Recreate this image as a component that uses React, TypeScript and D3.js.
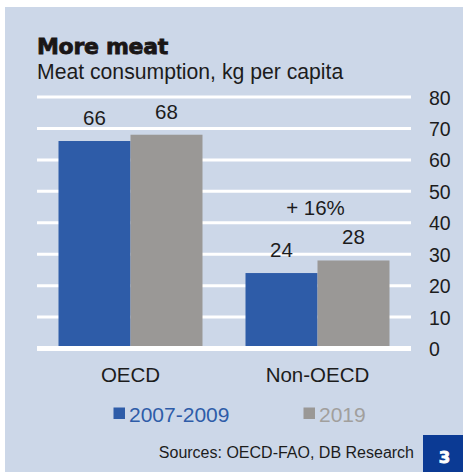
import React from "react";
import * as d3 from "d3";

const categories = ["OECD", "Non-OECD"];
const seriesNames = ["2007-2009", "2019"];
const values2007 = [66, 24];
const values2019 = [68, 28];
const yTicks = [0, 10, 20, 30, 40, 50, 60, 70, 80];
const annotation = "+ 16%";
const title = "More meat";
const subtitle = "Meat consumption, kg per capita";
const source = "Sources: OECD-FAO, DB Research";
const chartNumber = "3";

const W = 463;
const H = 472;
const BG = "#ccd7e8";
const BLUE = "#2e5ca8";
const GRAY = "#9a9896";
const FONT = "'Liberation Sans', Arial, sans-serif";
const TEXT = "#1c1c1c";

export default function App() {
  const x0 = d3
    .scaleBand<string>()
    .domain(categories)
    .range([37, 411])
    .paddingInner(0.23)
    .paddingOuter(0.115);
  const x1 = d3
    .scaleBand<string>()
    .domain(seriesNames)
    .range([0, x0.bandwidth()])
    .padding(0);
  const y = d3.scaleLinear().domain([0, 80]).range([348.5, 97]);

  const rows = categories.map((c, i) => ({
    cat: c,
    vals: [
      { s: seriesNames[0], v: values2007[i], color: BLUE },
      { s: seriesNames[1], v: values2019[i], color: GRAY },
    ],
  }));

  const [xr0, xr1] = x0.range();

  return (
    <svg
      width={W}
      height={H}
      style={{ position: "fixed", left: 0, top: 0, display: "block" }}
      fontFamily={FONT}
    >
      <rect x={0} y={0} width={W} height={H} fill="#ffffff" />
      <rect x={5} y={7} width={W - 5} height={H - 7} fill={BG} />

      <text
        x={37}
        y={54}
        fontFamily="'DejaVu Sans', sans-serif"
        fontWeight={700}
        fontSize={22}
        letterSpacing={-0.3}
        fill="#1a1616"
        stroke="#1a1616"
        strokeWidth={0.8}
      >
        {title}
      </text>
      <text x={37} y={79} fontSize={21.2} fill={TEXT}>
        {subtitle}
      </text>

      {/* gridlines */}
      {yTicks
        .filter((t) => t !== 0)
        .map((t) => (
          <line
            key={t}
            x1={xr0}
            x2={xr1}
            y1={y(t)}
            y2={y(t)}
            stroke="#ffffff"
            strokeWidth={3}
          />
        ))}

      {/* bars */}
      {rows.map((r) => (
        <g key={r.cat} transform={`translate(${x0(r.cat)},0)`}>
          {r.vals.map((d) => (
            <rect
              key={d.s}
              x={x1(d.s)}
              y={y(d.v)}
              width={x1.bandwidth()}
              height={y(0) - y(d.v)}
              fill={d.color}
            />
          ))}
          {r.vals.map((d) => (
            <text
              key={d.s + "l"}
              x={(x1(d.s) as number) + x1.bandwidth() / 2}
              y={y(d.v) - 16}
              textAnchor="middle"
              fontSize={20.5}
              fill={TEXT}
            >
              {d.v}
            </text>
          ))}
          <text
            x={x0.bandwidth() / 2}
            y={381.5}
            textAnchor="middle"
            fontSize={20.5}
            fill={TEXT}
          >
            {r.cat}
          </text>
        </g>
      ))}

      {/* annotation */}
      <text
        x={(x0("Non-OECD") as number) + x0.bandwidth() / 2 - 2}
        y={215}
        textAnchor="middle"
        fontSize={20.5}
        fill={TEXT}
      >
        {annotation}
      </text>

      {/* zero line */}
      <line
        x1={xr0}
        x2={xr1}
        y1={y(0)}
        y2={y(0)}
        stroke="#ffffff"
        strokeWidth={5}
      />

      {/* y tick labels */}
      {yTicks.map((t) => (
        <text
          key={"t" + t}
          x={429}
          y={y(t) + 7.5}
          fontSize={19.5}
          fill={TEXT}
        >
          {t}
        </text>
      ))}

      {/* legend */}
      <rect x={113.5} y={407.5} width={11.5} height={11.5} fill={BLUE} />
      <text x={129} y={421.5} fontSize={21} fill={BLUE}>
        {seriesNames[0]}
      </text>
      <rect x={303.5} y={407.5} width={11.5} height={11.5} fill={GRAY} />
      <text x={319} y={421.5} fontSize={21} fill="#a19f9d">
        {seriesNames[1]}
      </text>

      {/* source */}
      <text x={414} y={458} textAnchor="end" fontSize={16} fill={TEXT}>
        {source}
      </text>

      <rect x={423} y={435} width={40} height={37} fill="#0b3a94" />
      <text
        x={444.5}
        y={463}
        textAnchor="middle"
        fontFamily="'DejaVu Sans', sans-serif"
        fontSize={16.5}
        fontWeight={700}
        fill="#ffffff"
        stroke="#ffffff"
        strokeWidth={0.8}
      >
        {chartNumber}
      </text>
    </svg>
  );
}
